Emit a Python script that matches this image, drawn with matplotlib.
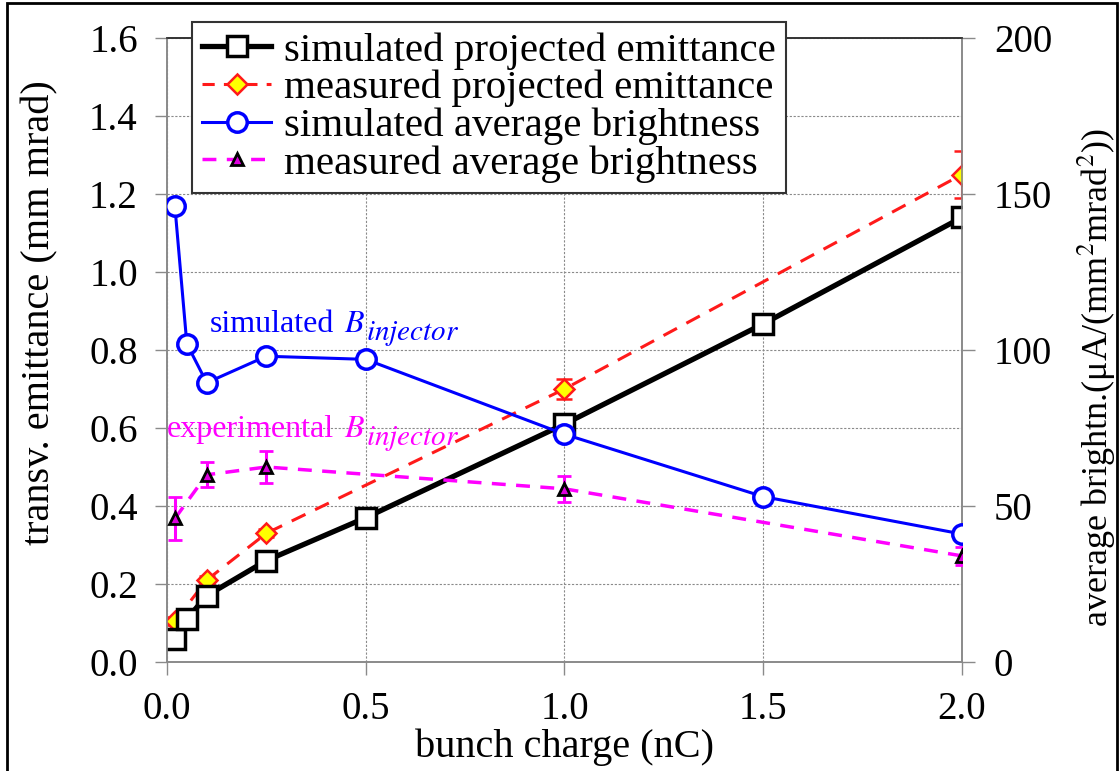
import matplotlib
matplotlib.use("Agg")
import matplotlib.pyplot as plt
from matplotlib.patches import Rectangle
from matplotlib.lines import Line2D
from matplotlib.transforms import offset_copy

FAM = 'Liberation Serif'
plt.rcParams['font.family'] = FAM
plt.rcParams['mathtext.fontset'] = 'stix'

# Data
x_sim = [0.02, 0.05, 0.1, 0.25, 0.5, 1.0, 1.5, 2.0]
emit_sim = [0.06, 0.11, 0.17, 0.26, 0.37, 0.61, 0.867, 1.14]
bright_sim = [146, 102, 89.5, 98, 97, 73, 53, 41]

x_meas = [0.02, 0.1, 0.25, 1.0, 2.0]
emit_meas = [0.105, 0.21, 0.33, 0.70, 1.25]
emit_err = [0.01, 0.01, 0.01, 0.025, 0.06]
bright_meas = [46, 60, 62.5, 55.5, 34]
bright_err = [7, 4, 5, 4.2, 3]

x_ticks = [0.0, 0.5, 1.0, 1.5, 2.0]
y1_ticks = [0.0, 0.2, 0.4, 0.6, 0.8, 1.0, 1.2, 1.4, 1.6]
y2_ticks = [0, 50, 100, 150, 200]

labels = ["simulated projected emittance", "measured projected emittance",
          "simulated average brightness", "measured average brightness"]

fig = plt.figure(figsize=(11.19, 7.71), dpi=100)
ax1 = fig.add_axes([0.1492, 0.1414, 0.7105, 0.8093])
ax2 = ax1.twinx()

gray = '#8a8a8a'
FS = 29
TFS = 28

# left axis series
ax1.errorbar(x_meas, emit_meas, yerr=emit_err, color='#ff1a1a', ls=(0, (5, 3.5)), lw=2.2,
             marker='D', ms=10, mfc='#ffff00', mec='#ff1a1a', mew=1.8,
             ecolor='#ff1a1a', elinewidth=2.2, capsize=6, capthick=2.2, zorder=3)
ax1.plot(x_sim, emit_sim, color='black', lw=3.8, marker='s', ms=14, mfc='white',
         mec='black', mew=2.5, zorder=4)

# right axis series
ax2.errorbar(x_meas, bright_meas, yerr=bright_err, color='#ff00ff', ls=(0, (4, 3)), lw=2.5,
             marker='^', ms=8, mfc='#dd00dd', mec='black', mew=2,
             ecolor='#ff00ff', elinewidth=2.2, capsize=5, capthick=2.2, zorder=3)
ax2.plot(x_sim, bright_sim, color='#0000ff', lw=2.2, marker='o', ms=14, mfc='white',
         mec='#0000ff', mew=2.5, zorder=4)

ax1.set_xlim(0, 2.0)
ax1.set_ylim(0, 1.6)
ax2.set_ylim(0, 200)
ax1.set_xticks(x_ticks)
ax1.set_xticklabels([f"{v:.1f}" for v in x_ticks], family=FAM)
ax1.set_yticks(y1_ticks)
ax1.set_yticklabels([f"{v:.1f}" for v in y1_ticks], family=FAM)
ax2.set_yticks(y2_ticks)
ax2.set_yticklabels([str(v) for v in y2_ticks], family=FAM)

ax1.grid(True, color=gray, ls=(0, (2, 1.5)), lw=0.8)
ax1.set_axisbelow(True)

for ax in (ax1, ax2):
    for s in ax.spines.values():
        s.set_color(gray)
        s.set_linewidth(1.2)
    ax.spines['top'].set_color('#333333')
ax1.tick_params(axis='both', direction='out', length=9, width=1, color=gray,
                labelsize=TFS, pad=12)
ax2.tick_params(axis='y', direction='out', length=9, width=1, color=gray,
                labelsize=TFS, pad=14)

ax1.set_xlabel("bunch charge (nC)", fontsize=FS, labelpad=0, family=FAM)
ax1.set_ylabel("transv. emittance (mm mrad)", fontsize=FS, family=FAM)
ax1.yaxis.set_label_coords(-0.137, 0.56)
ax2.set_ylabel("average brightn.(μA/(mm$^2$mrad$^2$))", fontsize=26, family=FAM)
ax2.yaxis.set_label_coords(1.143, 0.455)

renderer = fig.canvas.get_renderer()


def b_label(x, y, word, color):
    t1 = ax1.text(x, y, word, color=color, fontsize=23, ha='left', va='baseline',
                  zorder=6, family=FAM)
    bb1 = t1.get_window_extent(renderer)
    x0 = bb1.x1 - ax1.transData.transform((x, y))[0]
    tr_b = offset_copy(ax1.transData, fig=fig, x=x0 + 10, y=0, units='dots')
    t2 = ax1.text(x, y, r"$B$", color=color, fontsize=23, ha='left', va='baseline',
                  transform=tr_b, zorder=6)
    bb2 = t2.get_window_extent(renderer)
    tr_s = offset_copy(ax1.transData, fig=fig, x=x0 + 10 + bb2.width + 1, y=-8, units='dots')
    ax1.text(x, y, r"$injector$", color=color, fontsize=21, ha='left', va='baseline',
             transform=tr_s, zorder=6)


b_label(0.108, 0.846, "simulated", '#0000ff')
b_label(0.0, 0.577, "experimental", '#ff00ff')

handles = [
    Line2D([], [], color='black', lw=3.8, marker='s', ms=14, mfc='white', mec='black', mew=2.5),
    Line2D([], [], color='#ff1a1a', lw=2.2, ls=(0, (4, 3)), marker='D', ms=10, mfc='#ffff00',
           mec='#ff1a1a', mew=1.8),
    Line2D([], [], color='#0000ff', lw=2.2, marker='o', ms=14, mfc='white', mec='#0000ff', mew=2.5),
    Line2D([], [], color='#ff00ff', lw=2.5, ls=(0, (4, 3)), marker='^', ms=8, mfc='#dd00dd',
           mec='black', mew=2),
]
leg = ax2.legend(handles, labels, loc='upper left', bbox_to_anchor=(0.031, 1.026),
                 borderaxespad=0, prop={'family': FAM, 'size': 29.5}, handlelength=1.7,
                 handletextpad=0.3, labelspacing=0.0, borderpad=0.25, fancybox=False,
                 framealpha=1, edgecolor='#333333')
leg.get_frame().set_linewidth(1.5)
leg.set_zorder(10)

fig.patches.append(Rectangle((0.006, -0.01), 0.992, 1.006, transform=fig.transFigure,
                             fill=False, edgecolor='black', lw=2))

fig.savefig("out.png", dpi=100)
